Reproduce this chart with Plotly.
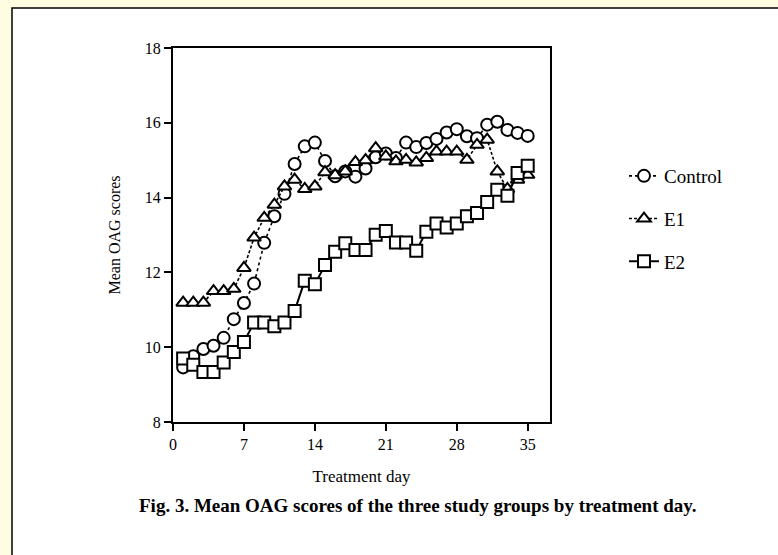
import plotly.graph_objects as go

days = list(range(1, 36))

control = [9.46, 9.76, 9.95, 10.04, 10.25, 10.75, 11.18, 11.70, 12.79, 13.50,
           14.10, 14.90, 15.37, 15.47, 14.98, 14.57, 14.70, 14.56, 14.78, 15.08,
           15.18, 15.06, 15.47, 15.35, 15.46, 15.57, 15.74, 15.83, 15.64, 15.59,
           15.95, 16.03, 15.81, 15.73, 15.65]

e1 = [11.19, 11.19, 11.19, 11.50, 11.50, 11.56, 12.12, 12.93, 13.46, 13.81,
      14.30, 14.48, 14.23, 14.30, 14.68, 14.60, 14.70, 14.95, 15.00, 15.32,
      15.10, 14.97, 15.01, 14.94, 15.06, 15.23, 15.23, 15.23, 15.01, 15.41,
      15.55, 14.70, 14.23, 14.48, 14.61]

e2 = [9.70, 9.53, 9.34, 9.34, 9.59, 9.87, 10.14, 10.66, 10.66, 10.56,
      10.66, 10.97, 11.78, 11.68, 12.20, 12.55, 12.78, 12.60, 12.60, 13.01,
      13.11, 12.80, 12.80, 12.58, 13.09, 13.31, 13.20, 13.31, 13.50, 13.59,
      13.88, 14.21, 14.05, 14.66, 14.85]

series_names = ["Control", "E1", "E2"]
x_ticks = [0, 7, 14, 21, 28, 35]
y_ticks = [8, 10, 12, 14, 16, 18]

x_title = "Treatment day"
y_title = "Mean OAG scores"
caption = "Fig. 3. Mean OAG scores of the three study groups by treatment day."

FONT = "Liberation Serif"
PAGE_BG = "#FEFDE2"
W, H = 778, 555
ML, MR, MT, MB = 173, 228, 48, 133
PW, PH = W - ML - MR, H - MT - MB


def px_to_paper_x(px):
    return (px - ML) / PW


def px_to_paper_y(py):
    return (H - MB - py) / PH


fig = go.Figure()

fig.add_trace(go.Scatter(
    x=days, y=control, name=series_names[0], mode="lines+markers",
    legendgroup="c",
    line=dict(color="black", width=1.6, dash="dot"),
    marker=dict(symbol="circle", size=12, color="white",
                line=dict(color="black", width=2)),
))
fig.add_trace(go.Scatter(
    x=days, y=e1, name=series_names[1], mode="lines+markers",
    legendgroup="e1",
    line=dict(color="black", width=1.6, dash="3px,2px"),
    marker=dict(symbol="triangle-up", size=12, color="white",
                line=dict(color="black", width=2)),
))
fig.add_trace(go.Scatter(
    x=days, y=e2, name=series_names[2], mode="lines+markers",
    legendgroup="e2",
    line=dict(color="black", width=2),
    marker=dict(symbol="square", size=12, color="white",
                line=dict(color="black", width=2)),
))

# page frame (white panel with black border on pale-yellow page)
fig.add_shape(type="rect", xref="paper", yref="paper",
              x0=px_to_paper_x(12), x1=px_to_paper_x(800),
              y0=px_to_paper_y(580), y1=px_to_paper_y(8),
              fillcolor="white", line=dict(color="black", width=1.5),
              layer="below")

fig.add_annotation(text="<b>" + caption + "</b>", xref="paper", yref="paper",
                   x=px_to_paper_x(137), y=px_to_paper_y(505),
                   xanchor="left", yanchor="middle", showarrow=False,
                   font=dict(family=FONT, size=19, color="black"))

fig.update_layout(
    width=W, height=H,
    margin=dict(l=ML, r=MR, t=MT, b=MB),
    paper_bgcolor=PAGE_BG,
    plot_bgcolor="white",
    font=dict(family=FONT, size=16, color="black"),
    showlegend=True,
    legend=dict(x=px_to_paper_x(624), y=px_to_paper_y(219),
                xanchor="left", yanchor="middle",
                bgcolor="rgba(0,0,0,0)", tracegroupgap=15,
                font=dict(family=FONT, size=19, color="black")),
)

fig.update_xaxes(range=[0, 37.2], tickvals=x_ticks, ticks="outside",
                 ticklen=7, tickwidth=2, tickcolor="black",
                 showline=True, linewidth=2, linecolor="black", mirror=True,
                 showgrid=False, zeroline=False,
                 tickfont=dict(family=FONT, size=16),
                 title=dict(text=x_title, standoff=18,
                            font=dict(family=FONT, size=17)))
fig.update_yaxes(range=[8, 18], tickvals=y_ticks, ticks="outside",
                 ticklen=7, tickwidth=2, tickcolor="black",
                 showline=True, linewidth=2, linecolor="black", mirror=True,
                 showgrid=False, zeroline=False,
                 tickfont=dict(family=FONT, size=16),
                 title=dict(text=y_title, standoff=20,
                            font=dict(family=FONT, size=16)))

fig.write_html(
    "out.html",
    config={"displayModeBar": False},
    post_script="document.body.style.margin='0';"
                "document.body.style.background='" + PAGE_BG + "';",
)
